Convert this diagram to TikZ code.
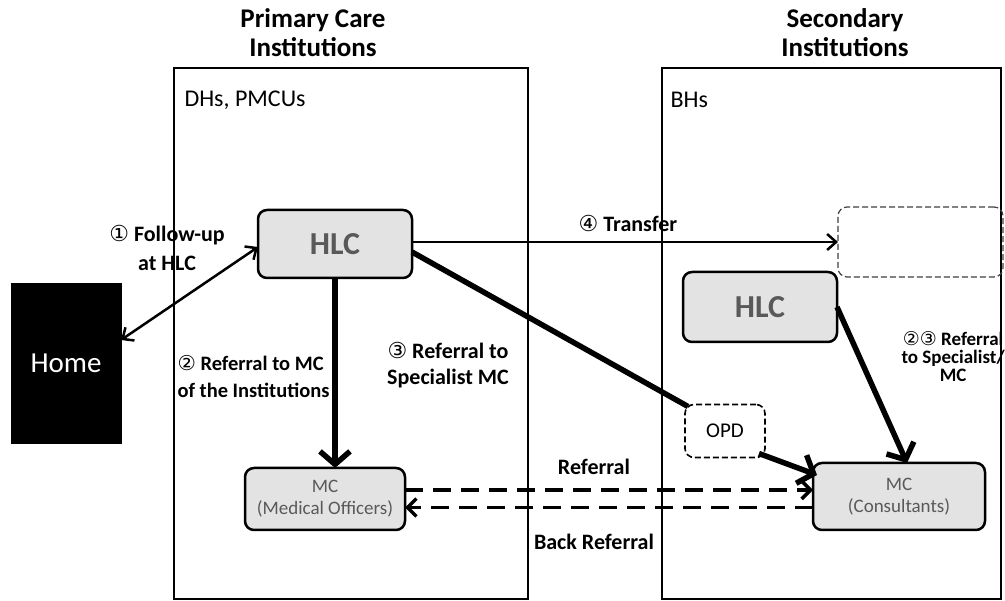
\documentclass[tikz,border=0pt]{standalone}
\usepackage{fontspec}
\setmainfont{Carlito}
\newfontfamily\djv{DejaVu Sans}
\usetikzlibrary{arrows.meta,calc}
\begin{document}
\begin{tikzpicture}[x=1pt,y=-1pt,
  frame/.style={draw, line width=1.3pt, inner sep=0pt, outer sep=0pt},
  box/.style={draw, line width=2.5pt, rounded corners=9pt, fill=gray!22, inner sep=0pt, outer sep=0pt, text=black!65, font=\bfseries\fontsize{32}{34}\selectfont},
  mcbox/.style={box, align=center, font=\fontsize{19}{22}\selectfont},
  dbox/.style={draw, line width=1.2pt, dash pattern=on 6pt off 3pt, rounded corners=9pt, inner sep=0pt, outer sep=0pt},
  title/.style={align=center, font=\bfseries\fontsize{27}{29}\selectfont},
  lab/.style={align=center, font=\bfseries\fontsize{22}{28}\selectfont},
  sect/.style={anchor=west, font=\fontsize{24}{26}\selectfont},
  thin/.style={line width=2.5pt, -{Straight Barb[length=9pt,width=16pt]}},
  thick/.style={line width=5.5pt, -{Straight Barb[length=13pt,width=30pt]}},
  refl/.style={line width=3.5pt, dash pattern=on 18pt off 10pt, -{Straight Barb[length=9pt,width=18pt]}}
]
\useasboundingbox (0,0) rectangle (1005,601);
\fill[white] (0,0) rectangle (1005,601);

% frames
\node[frame, minimum width=354pt, minimum height=531pt] (lf) at (351,333.5) {};
\node[frame, minimum width=339pt, minimum height=531pt] (rf) at (831.5,333.5) {};

% titles
\node[title] (t1) at (313,32.5) {Primary Care\\Institutions};
\node[title] (t2) at (845,32.5) {Secondary\\Institutions};
\node[sect] (s1) at (181,100) {DHs, PMCUs};
\node[sect] (s2) at (667,100) {BHs};

% boxes
\node[box, minimum width=154pt, minimum height=68pt] (hlc1) at (335,244) {HLC};
\node[draw, fill=black, text=white, minimum width=110pt, minimum height=160pt, inner sep=0pt, outer sep=0pt, font=\fontsize{29}{31}\selectfont] (home) at (66,363) {Home};
\node[mcbox, minimum width=160pt, minimum height=62pt] (mc1) at (325,499) {MC\\(Medical Officers)};
\node[box, minimum width=154pt, minimum height=70pt] (hlc2) at (760,307) {HLC};
\node[dbox, draw=black!75, minimum width=165pt, minimum height=70pt] (tr) at (920.5,242) {};
\node[dbox, line width=1.6pt, minimum width=80pt, minimum height=53pt, font=\fontsize{21}{23}\selectfont] (opd) at (725,431) {OPD};
\node[mcbox, minimum width=172pt, minimum height=67pt] (mc2) at (899,496.5) {MC\\(Consultants)};

% labels
\node[lab, font=\bfseries\fontsize{22}{29}\selectfont] (l1) at (167,247.5) {{\djv\mdseries ①} Follow-up\\at HLC};
\node[lab, align=left, anchor=west, font=\bfseries\fontsize{20.5}{27}\selectfont] (l2) at (174,376.5) {{\djv\mdseries ②} Referral to MC\\of the Institutions};
\node[lab, font=\bfseries\fontsize{22}{26}\selectfont] (l3) at (448,365) {{\djv\mdseries ③} Referral to\\Specialist MC};
\node[lab] (l4) at (628,223) {{\djv\mdseries ④} Transfer};
\node[lab, anchor=west, font=\bfseries\fontsize{19}{18}\selectfont] (l5) at (898,357) {{\djv\mdseries ②③} Referral\\to Specialist/\\MC};
\node[lab] (l6) at (594,467) {Referral};
\node[lab] (l7) at (594,542) {Back Referral};

% connectors
\draw[thin, {Straight Barb[length=9pt,width=16pt]}-{Straight Barb[length=9pt,width=16pt]}] ([yshift=23pt]home.east) -- ([yshift=-3pt]hlc1.west);
\draw[thin] (hlc1.east |- tr.west) -- (tr.west);
\draw[thick] (hlc1.south) -- (hlc1.south |- mc1.north);
\draw[line width=5.5pt] ([yshift=-8pt]hlc1.east) -- ([xshift=3pt,yshift=-2pt]opd.north west);
\draw[thick] ([xshift=-6pt,yshift=4pt]opd.south east) -- ([xshift=4pt,yshift=-12pt]mc2.north west);
\draw[thick] (hlc2.east) -- ([xshift=8pt]mc2.north);
\coordinate (u1) at ([yshift=9pt]mc1.east);
\coordinate (u2) at (u1 -| mc2.west);
\coordinate (d1) at ([yshift=-11pt]mc2.west);
\coordinate (d2) at (d1 -| mc1.east);
\draw[refl] (u1) -- (u2);
\draw[refl] (d1) -- (d2);
\end{tikzpicture}
\end{document}
